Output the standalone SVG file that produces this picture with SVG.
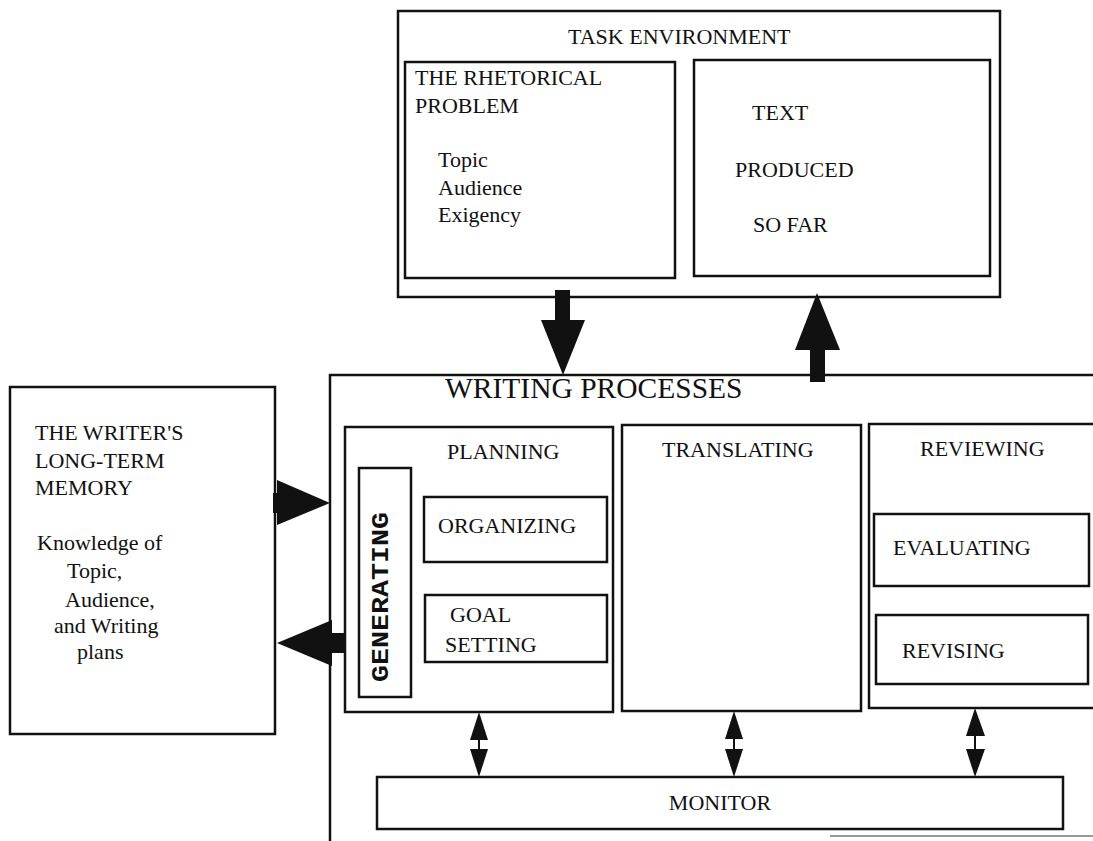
<svg xmlns="http://www.w3.org/2000/svg" width="1093" height="841" viewBox="0 0 1093 841">
  <style>
    .box { fill: none; stroke: #111; stroke-width: 2.5; }
    .t { font-family: "Liberation Serif", "Times New Roman", serif; font-size: 22px; fill: #111; }
    .big { font-size: 29.5px; }
    .gen { font-family: "Liberation Mono", "Courier New", monospace; font-weight: bold; font-size: 24px; fill: #111; }
    .solid { fill: #111; stroke: none; }
    .thin { stroke: #111; stroke-width: 2; fill: none; }
  </style>
  <rect width="1093" height="841" fill="#fff"/>

  <!-- Task environment -->
  <g id="task-environment">
    <rect class="box" x="398" y="11" width="602" height="286"/>
    <text class="t" x="568" y="44">TASK ENVIRONMENT</text>
  </g>
  <g id="rhetorical-problem">
    <rect class="box" x="405" y="62" width="270" height="216"/>
    <text class="t" x="415" y="85">THE RHETORICAL</text>
    <text class="t" x="415" y="113">PROBLEM</text>
    <text class="t" x="438" y="167">Topic</text>
    <text class="t" x="438" y="195">Audience</text>
    <text class="t" x="438" y="222">Exigency</text>
  </g>
  <g id="text-produced">
    <rect class="box" x="694" y="60" width="296" height="216"/>
    <text class="t" x="752" y="120">TEXT</text>
    <text class="t" x="735" y="177">PRODUCED</text>
    <text class="t" x="753" y="232">SO FAR</text>
  </g>

  <!-- Long-term memory -->
  <g id="long-term-memory">
    <rect class="box" x="10" y="387" width="265" height="347"/>
    <text class="t" x="35" y="440">THE WRITER'S</text>
    <text class="t" x="35" y="468">LONG-TERM</text>
    <text class="t" x="35" y="495">MEMORY</text>
    <text class="t" x="37" y="550">Knowledge of</text>
    <text class="t" x="67" y="578">Topic,</text>
    <text class="t" x="65" y="607">Audience,</text>
    <text class="t" x="54" y="633">and Writing</text>
    <text class="t" x="77" y="659">plans</text>
  </g>

  <!-- Writing processes (frame runs past the right and bottom edges) -->
  <g id="writing-processes">
    <path class="box" d="M1093,375 H330 V841"/>
    <line x1="830" y1="836" x2="1093" y2="836" stroke="#999" stroke-width="2"/>
    <text class="t big" x="445" y="398">WRITING PROCESSES</text>
  </g>
  <g id="planning">
    <rect class="box" x="345" y="427" width="268" height="285"/>
    <text class="t" x="447" y="459">PLANNING</text>
  </g>
  <g id="generating">
    <rect class="box" x="359" y="468" width="52" height="229"/>
    <text class="gen" transform="translate(388,682) rotate(-90)" textLength="170" lengthAdjust="spacingAndGlyphs">GENERATING</text>
  </g>
  <g id="organizing">
    <rect class="box" x="424" y="497" width="183" height="65"/>
    <text class="t" x="438" y="533">ORGANIZING</text>
  </g>
  <g id="goal-setting">
    <rect class="box" x="425" y="595" width="182" height="67"/>
    <text class="t" x="450" y="622">GOAL</text>
    <text class="t" x="445" y="652">SETTING</text>
  </g>
  <g id="translating">
    <rect class="box" x="622" y="425" width="239" height="286"/>
    <text class="t" x="662" y="457">TRANSLATING</text>
  </g>
  <g id="reviewing">
    <path class="box" d="M1093,424 H869 V708 H1093"/>
    <text class="t" x="920" y="456">REVIEWING</text>
  </g>
  <g id="evaluating">
    <rect class="box" x="874" y="514" width="215" height="72"/>
    <text class="t" x="893" y="555">EVALUATING</text>
  </g>
  <g id="revising">
    <rect class="box" x="876" y="615" width="212" height="69"/>
    <text class="t" x="902" y="658">REVISING</text>
  </g>
  <g id="monitor">
    <rect class="box" x="377" y="777" width="686" height="52"/>
    <text class="t" x="720" y="810" text-anchor="middle">MONITOR</text>
  </g>

  <!-- Connectors -->
  <g id="connectors">
    <!-- task environment down to writing processes -->
    <rect class="solid" x="555" y="290" width="15" height="32"/>
    <polygon class="solid" points="541,320 585,320 563,375"/>
    <!-- writing processes up to text produced -->
    <polygon class="solid" points="817,293 795,350 840,350"/>
    <rect class="solid" x="810" y="348" width="15" height="34"/>
    <!-- long-term memory to writing processes -->
    <rect class="solid" x="273" y="493" width="7" height="20"/>
    <polygon class="solid" points="277,480 330,503 277,525"/>
    <!-- writing processes back to long-term memory -->
    <polygon class="solid" points="277,643 332,620 332,666"/>
    <rect class="solid" x="330" y="633" width="14" height="20"/>
    <!-- monitor links -->
    <g>
      <line class="thin" x1="479" y1="735" x2="479" y2="752"/>
      <polygon class="solid" points="479,712 470,740 488,740"/>
      <polygon class="solid" points="479,777 470,749 488,749"/>
      <line class="thin" x1="734" y1="735" x2="734" y2="752"/>
      <polygon class="solid" points="734,711 725,739 743,739"/>
      <polygon class="solid" points="734,777 725,749 743,749"/>
      <line class="thin" x1="975" y1="735" x2="975" y2="752"/>
      <polygon class="solid" points="975,708 966,736 985,736"/>
      <polygon class="solid" points="975,777 966,749 985,749"/>
    </g>
  </g>
</svg>
